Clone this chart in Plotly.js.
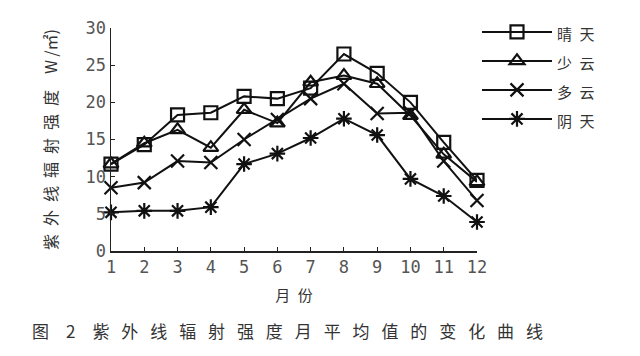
<!DOCTYPE html>
<html>
<head>
<meta charset="utf-8">
<script src="https://cdn.plot.ly/plotly-3.0.1.min.js"></script>
<style>body{margin:0;background:#fff}#chart{width:640px;height:356px}</style>
</head>
<body>
<div id="chart"></div>
<script>
const months = [1,2,3,4,5,6,7,8,9,10,11,12];
const seriesNames = ['晴\u2002天','少\u2002云','多\u2002云','阴\u2002天'];
const sunny   = [11.7,14.3,18.3,18.6,20.8,20.5,21.9,26.5,23.9,20.0,14.6,9.5];
const fewCloud= [11.7,14.5,16.3,13.9,19.0,17.2,22.7,23.6,22.5,18.2,13.0,9.3];
const cloudy  = [8.5,9.2,12.1,11.9,15.0,17.7,20.5,22.5,18.5,18.6,12.1,6.8];
const overcast= [5.2,5.4,5.4,5.9,11.7,13.1,15.2,17.8,15.6,9.7,7.4,3.9];
const yTicks = [0,5,10,15,20,25,30];

const symbols = ['square-open','triangle-up-open','x-thin-open','asterisk-open'];
const allSeries = [sunny, fewCloud, cloudy, overcast];
const traces = allSeries.map((s,i)=>({
  x: months, y: s, name: '<span style="font-size:15px">'+seriesNames[i]+'</span>',
  type:'scatter', mode:'lines+markers',
  line:{color:'#111', width:2},
  marker:{symbol:symbols[i], size:13, color:'#111', line:{color:'#111', width:2.2}},
  cliponaxis:false
}));

const cjk = '"Noto Sans CJK SC", "Noto Sans", sans-serif';
const layout = {
  width:640, height:356,
  margin:{l:111, r:163, t:25, b:105},
  paper_bgcolor:'#fff', plot_bgcolor:'#fff',
  showlegend:true,
  legend:{x:1.0, xanchor:'left', y:1.07, yanchor:'top', itemwidth:70, valign:'middle',
    font:{family:cjk, size:20, color:'#333'}, bgcolor:'rgba(0,0,0,0)', tracegroupgap:0},
  xaxis:{range:[1,12], tickvals:months, ticks:'inside', ticklen:4, tickcolor:'#222',
    showline:true, linecolor:'#222', linewidth:1.5, showgrid:false, zeroline:false,
    tickfont:{family:'"DejaVu Sans Mono", monospace', size:17, color:'#555'},
    title:{text:'月\u2002份', font:{family:cjk, size:15, color:'#333'}, standoff:14}},
  yaxis:{range:[0,30], tickvals:yTicks, ticks:'inside', ticklen:4, tickcolor:'#222',
    showline:true, linecolor:'#222', linewidth:1.5, showgrid:false, zeroline:false,
    tickfont:{family:'"DejaVu Sans Mono", monospace', size:17, color:'#555'},
    title:{text:'紫\u2002外\u2002线\u2002辐\u2002射\u2002强\u2002度\u2002\u2002W\u2009/㎡)', font:{family:cjk, size:16, color:'#333'}, standoff:24}},
  annotations:[{
    xref:'paper', yref:'paper', x:-0.22, y:-0.29, xanchor:'left', yanchor:'top', showarrow:false,
    text:'图\u2002\u20022\u2002\u2002紫\u2002\u2009外\u2002\u2009线\u2002\u2009辐\u2002\u2009射\u2002\u2009强\u2002\u2009度\u2002\u2009月\u2002\u2009平\u2002\u2009均\u2002\u2009值\u2002\u2009的\u2002\u2009变\u2002\u2009化\u2002\u2009曲\u2002\u2009线',
    font:{family:cjk, size:17, color:'#333'}
  }]
};
Plotly.newPlot('chart', traces, layout, {displayModeBar:false, staticPlot:true});
</script>
</body>
</html>
